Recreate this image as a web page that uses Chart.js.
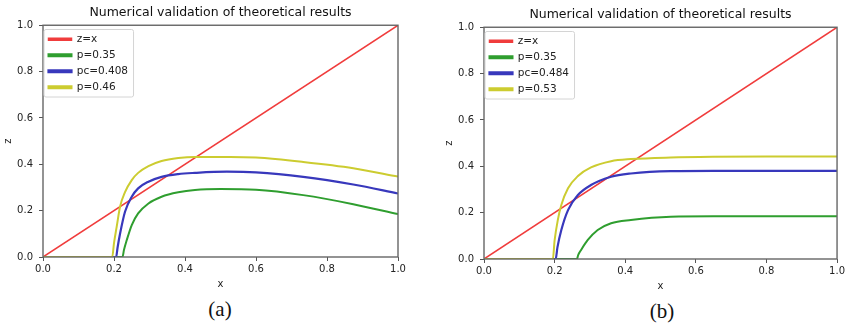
<!DOCTYPE html>
<html>
<head>
<meta charset="utf-8">
<script src="https://cdn.jsdelivr.net/npm/chart.js@4.4.0/dist/chart.umd.min.js"></script>
<style>
    body { margin: 0; background: #fff; width: 847px; height: 329px; overflow: hidden; position: relative; }
    .panel { position: absolute; }
    .cap { position: absolute; font-family: "Liberation Serif", serif; font-size: 21px; color: #111; transform: translateX(-50%); }
</style>
</head>
<body>
<div class="panel" style="left:0;top:0"><canvas id="chartA" width="420" height="295"></canvas></div>
<div class="panel" style="left:441px;top:2px"><canvas id="chartB" width="406" height="295"></canvas></div>
<div class="cap" style="left:220px;top:297px">(a)</div>
<div class="cap" style="left:662px;top:299px">(b)</div>
<script>
const titleText = 'Numerical validation of theoretical results';
const tickVals = [0, 0.2, 0.4, 0.6, 0.8, 1.0];

// diagonal z = x (both panels)
const diagX = [0, 1];
const diagY = [0, 1];

// panel (a)
const labelsA = ['z=x', 'p=0.35', 'pc=0.408', 'p=0.46'];
const greenAX = [0, 0.224, 0.228, 0.236, 0.25, 0.268, 0.297, 0.334, 0.381, 0.428, 0.5, 0.6, 0.733, 0.874, 1.0];
const greenAY = [0, 0, 0.03, 0.073, 0.138, 0.188, 0.231, 0.26, 0.279, 0.289, 0.293, 0.29, 0.267, 0.228, 0.185];
const blueAX = [0, 0.206, 0.21, 0.217, 0.231, 0.25, 0.268, 0.297, 0.334, 0.381, 0.428, 0.518, 0.6, 0.733, 0.874, 1.0];
const blueAY = [0, 0, 0.04, 0.10, 0.195, 0.26, 0.296, 0.325, 0.346, 0.358, 0.363, 0.368, 0.365, 0.346, 0.313, 0.274];
const yellowAX = [0, 0.195, 0.2, 0.2075, 0.217, 0.231, 0.25, 0.268, 0.297, 0.334, 0.381, 0.428, 0.527, 0.6, 0.733, 0.874, 1.0];
const yellowAY = [0, 0, 0.06, 0.13, 0.217, 0.28, 0.332, 0.363, 0.392, 0.414, 0.427, 0.432, 0.432, 0.429, 0.41, 0.383, 0.347];

// panel (b)
const labelsB = ['z=x', 'p=0.35', 'pc=0.484', 'p=0.53'];
const greenBX = [0, 0.263, 0.267, 0.275, 0.294, 0.322, 0.36, 0.416, 0.529, 0.65, 0.8, 1.0];
const greenBY = [0, 0, 0.018, 0.039, 0.082, 0.125, 0.154, 0.168, 0.182, 0.184, 0.184, 0.184];
const blueBX = [0, 0.203, 0.208, 0.219, 0.238, 0.266, 0.303, 0.36, 0.416, 0.529, 0.65, 0.8, 1.0];
const blueBY = [0, 0, 0.05, 0.125, 0.211, 0.276, 0.319, 0.355, 0.369, 0.379, 0.38, 0.38, 0.38];
const yellowBX = [0, 0.195, 0.2, 0.209, 0.219, 0.238, 0.266, 0.303, 0.36, 0.416, 0.529, 0.65, 0.8, 1.0];
const yellowBY = [0, 0, 0.08, 0.168, 0.233, 0.305, 0.358, 0.395, 0.422, 0.431, 0.438, 0.441, 0.442, 0.442];

const colors = ['#f03c3c', '#2f9e2f', '#3838bc', '#cccc30'];
const widths = [1.5, 2, 2.2, 2];
const FONT = '"DejaVu Sans", sans-serif';

function pts(xs, ys) {
    return xs.map((x, i) => ({x: x, y: ys[i]}));
}

// matplotlib style frame + legend box
const framePlugin = {
    id: 'frame',
    afterDraw(chart) {
        const ctx = chart.ctx;
        const a = chart.chartArea;
        ctx.save();
        ctx.strokeStyle = '#666';
        ctx.lineWidth = 1.4;
        ctx.strokeRect(a.left, a.top, a.right - a.left, a.bottom - a.top);
        const boxes = chart.legend.legendHitBoxes;
        if (boxes && boxes.length) {
            let l = Infinity, t = Infinity, r = -Infinity, b = -Infinity;
            boxes.forEach(h => {
                l = Math.min(l, h.left); t = Math.min(t, h.top);
                r = Math.max(r, h.left + h.width); b = Math.max(b, h.top + h.height);
            });
            ctx.strokeStyle = '#d4d4d4';
            ctx.lineWidth = 1;
            ctx.beginPath();
            ctx.roundRect(l - 4.5, t - 4.5, r - l + 10, b - t + 9, 2);
            ctx.stroke();
        }
        ctx.restore();
    }
};

function makeChart(id, labels, series) {
    const datasets = series.map((s, i) => ({
        label: labels[i],
        data: pts(s[0], s[1]),
        borderColor: colors[i],
        backgroundColor: colors[i],
        borderWidth: widths[i],
        pointRadius: 0,
        cubicInterpolationMode: 'monotone',
        order: 3 - i
    }));
    const axisCommon = {
        type: 'linear',
        min: 0,
        max: 1,
        afterBuildTicks: (s) => { s.ticks = tickVals.map(v => ({value: v})); },
        border: {display: false},
        grid: {drawOnChartArea: false, drawTicks: true, tickLength: 4, tickColor: '#555'},
        ticks: {
            color: '#222',
            font: {family: FONT, size: 10},
            callback: (v) => v.toFixed(1),
            maxRotation: 0,
            autoSkip: false
        }
    };
    return new Chart(document.getElementById(id), {
        type: 'line',
        data: {datasets: datasets},
        plugins: [framePlugin],
        options: {
            responsive: false,
            animation: false,
            layout: {padding: {left: 0, right: id === 'chartA' ? 22 : 8, top: 0, bottom: 0}},
            plugins: {
                title: {
                    display: true,
                    text: titleText,
                    fullSize: false,
                    color: '#111',
                    font: {family: FONT, size: 12.5, weight: 'normal', lineHeight: 1.1},
                    padding: {top: 5.5, bottom: 6}
                },
                legend: {
                    position: 'chartArea',
                    align: 'start',
                    // legend box gets top 0 inside chartArea, so the empty title pushes it down
                    title: {display: true, text: ' ', font: {size: 1, lineHeight: 1}, padding: {top: 25.5, bottom: 2}},
                    labels: {
                        boxWidth: 23,
                        boxHeight: 2,
                        padding: 5.5,
                        color: '#222',
                        font: {family: FONT, size: 10.5},
                        sort: (a, b) => a.datasetIndex - b.datasetIndex
                    }
                },
                tooltip: {enabled: false}
            },
            scales: {
                x: Object.assign({}, axisCommon, {
                    position: 'bottom',
                    title: {display: true, text: 'x', color: '#222', font: {family: FONT, size: 10}, padding: {top: 0, bottom: 5}},
                    ticks: Object.assign({}, axisCommon.ticks, {padding: 2}),
                    afterFit: (s) => { s.height = 38; }
                }),
                y: Object.assign({}, axisCommon, {
                    position: 'left',
                    title: {display: true, text: 'z', color: '#222', font: {family: FONT, size: 10}, padding: {top: 2, bottom: 0}},
                    ticks: Object.assign({}, axisCommon.ticks, {padding: 6}),
                    afterFit: (s) => { s.width = 43; }
                })
            }
        }
    });
}

makeChart('chartA', labelsA, [[diagX, diagY], [greenAX, greenAY], [blueAX, blueAY], [yellowAX, yellowAY]]);
makeChart('chartB', labelsB, [[diagX, diagY], [greenBX, greenBY], [blueBX, blueBY], [yellowBX, yellowBY]]);
</script>
</body>
</html>
